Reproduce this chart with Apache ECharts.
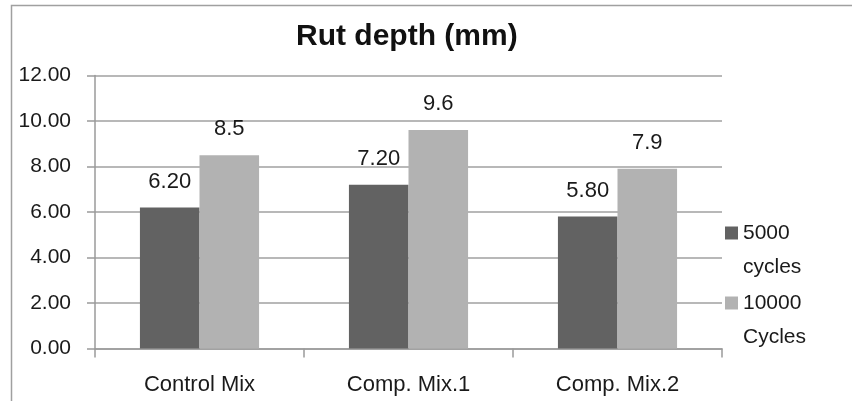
<!DOCTYPE html>
<html>
<head>
<meta charset="utf-8">
<script src="https://cdn.jsdelivr.net/npm/echarts@6/dist/echarts.min.js"></script>
<style>
  html, body { margin: 0; padding: 0; background: #fff; }
  #chart { width: 852px; height: 401px; }
</style>
</head>
<body>
<div id="chart"></div>
<script>
// Rut depth per mix after 5000 and 10000 loading cycles
const mixes = ['Control Mix', 'Comp. Mix.1', 'Comp. Mix.2'];
const seriesNames = ['5000\ncycles', '10000\nCycles'];
const rut5000 = [6.20, 7.20, 5.80];
const rut10000 = [8.5, 9.6, 7.9];
const labelDecimals = [2, 1];
const yTicks = { min: 0, max: 12, step: 2 };

const FONT = 'Liberation Sans';
const chart = echarts.init(document.getElementById('chart'), null, { renderer: 'canvas' });

const barLabel = (decimals) => ({
  show: true,
  position: 'top',
  distance: 15,
  color: '#1a1a1a',
  fontFamily: FONT,
  fontSize: 22,
  formatter: (p) => Number(p.value).toFixed(decimals)
});

chart.setOption({
  backgroundColor: '#fff',
  animation: false,
  title: {
    text: 'Rut depth (mm)',
    left: 296,
    top: 22,
    padding: 0,
    textStyle: { fontFamily: FONT, fontSize: 30, fontWeight: 'bold', color: '#111' }
  },
  legend: {
    orient: 'vertical',
    left: 725,
    top: 182,
    itemWidth: 13,
    itemHeight: 13,
    itemGap: -32,
    icon: 'rect',
    padding: 0,
    // a leading blank line puts the icon level with the first line of the name
    formatter: (name) => '\n' + name,
    textStyle: {
      fontFamily: FONT,
      fontSize: 21,
      color: '#1a1a1a',
      lineHeight: 34
    },
    data: seriesNames
  },
  grid: { left: 95, right: 130, top: 75.5, bottom: 52.5 },
  xAxis: {
    type: 'category',
    data: mixes,
    axisLine: { lineStyle: { color: '#9a9a9a', width: 1.5 } },
    axisTick: { show: true, length: 9, lineStyle: { color: '#9a9a9a', width: 1.5 } },
    axisLabel: { fontFamily: FONT, fontSize: 22, color: '#1a1a1a', margin: 25 }
  },
  yAxis: {
    type: 'value',
    min: yTicks.min,
    max: yTicks.max,
    interval: yTicks.step,
    axisLine: { show: true, lineStyle: { color: '#9a9a9a', width: 1.5 } },
    axisTick: { show: true, length: 8, lineStyle: { color: '#9a9a9a', width: 1.5 } },
    splitLine: { lineStyle: { color: '#a0a0a0', width: 1.5 } },
    axisLabel: {
      fontFamily: FONT, fontSize: 21, color: '#1a1a1a', margin: 24,
      formatter: (v) => v.toFixed(2)
    }
  },
  graphic: [{
    type: 'rect',
    shape: { x: 11.5, y: 5.5, width: 900, height: 500 },
    style: { fill: 'none', stroke: '#a0a0a0', lineWidth: 1.5 },
    silent: true,
    z: -1
  }],
  series: [
    {
      name: seriesNames[0],
      type: 'bar',
      data: rut5000,
      barGap: '0%',
      barCategoryGap: '43%',
      itemStyle: { color: '#626262' },
      label: barLabel(labelDecimals[0])
    },
    {
      name: seriesNames[1],
      type: 'bar',
      data: rut10000,
      barGap: '0%',
      barCategoryGap: '43%',
      itemStyle: { color: '#b2b2b2' },
      label: barLabel(labelDecimals[1])
    }
  ]
});
</script>
</body>
</html>
